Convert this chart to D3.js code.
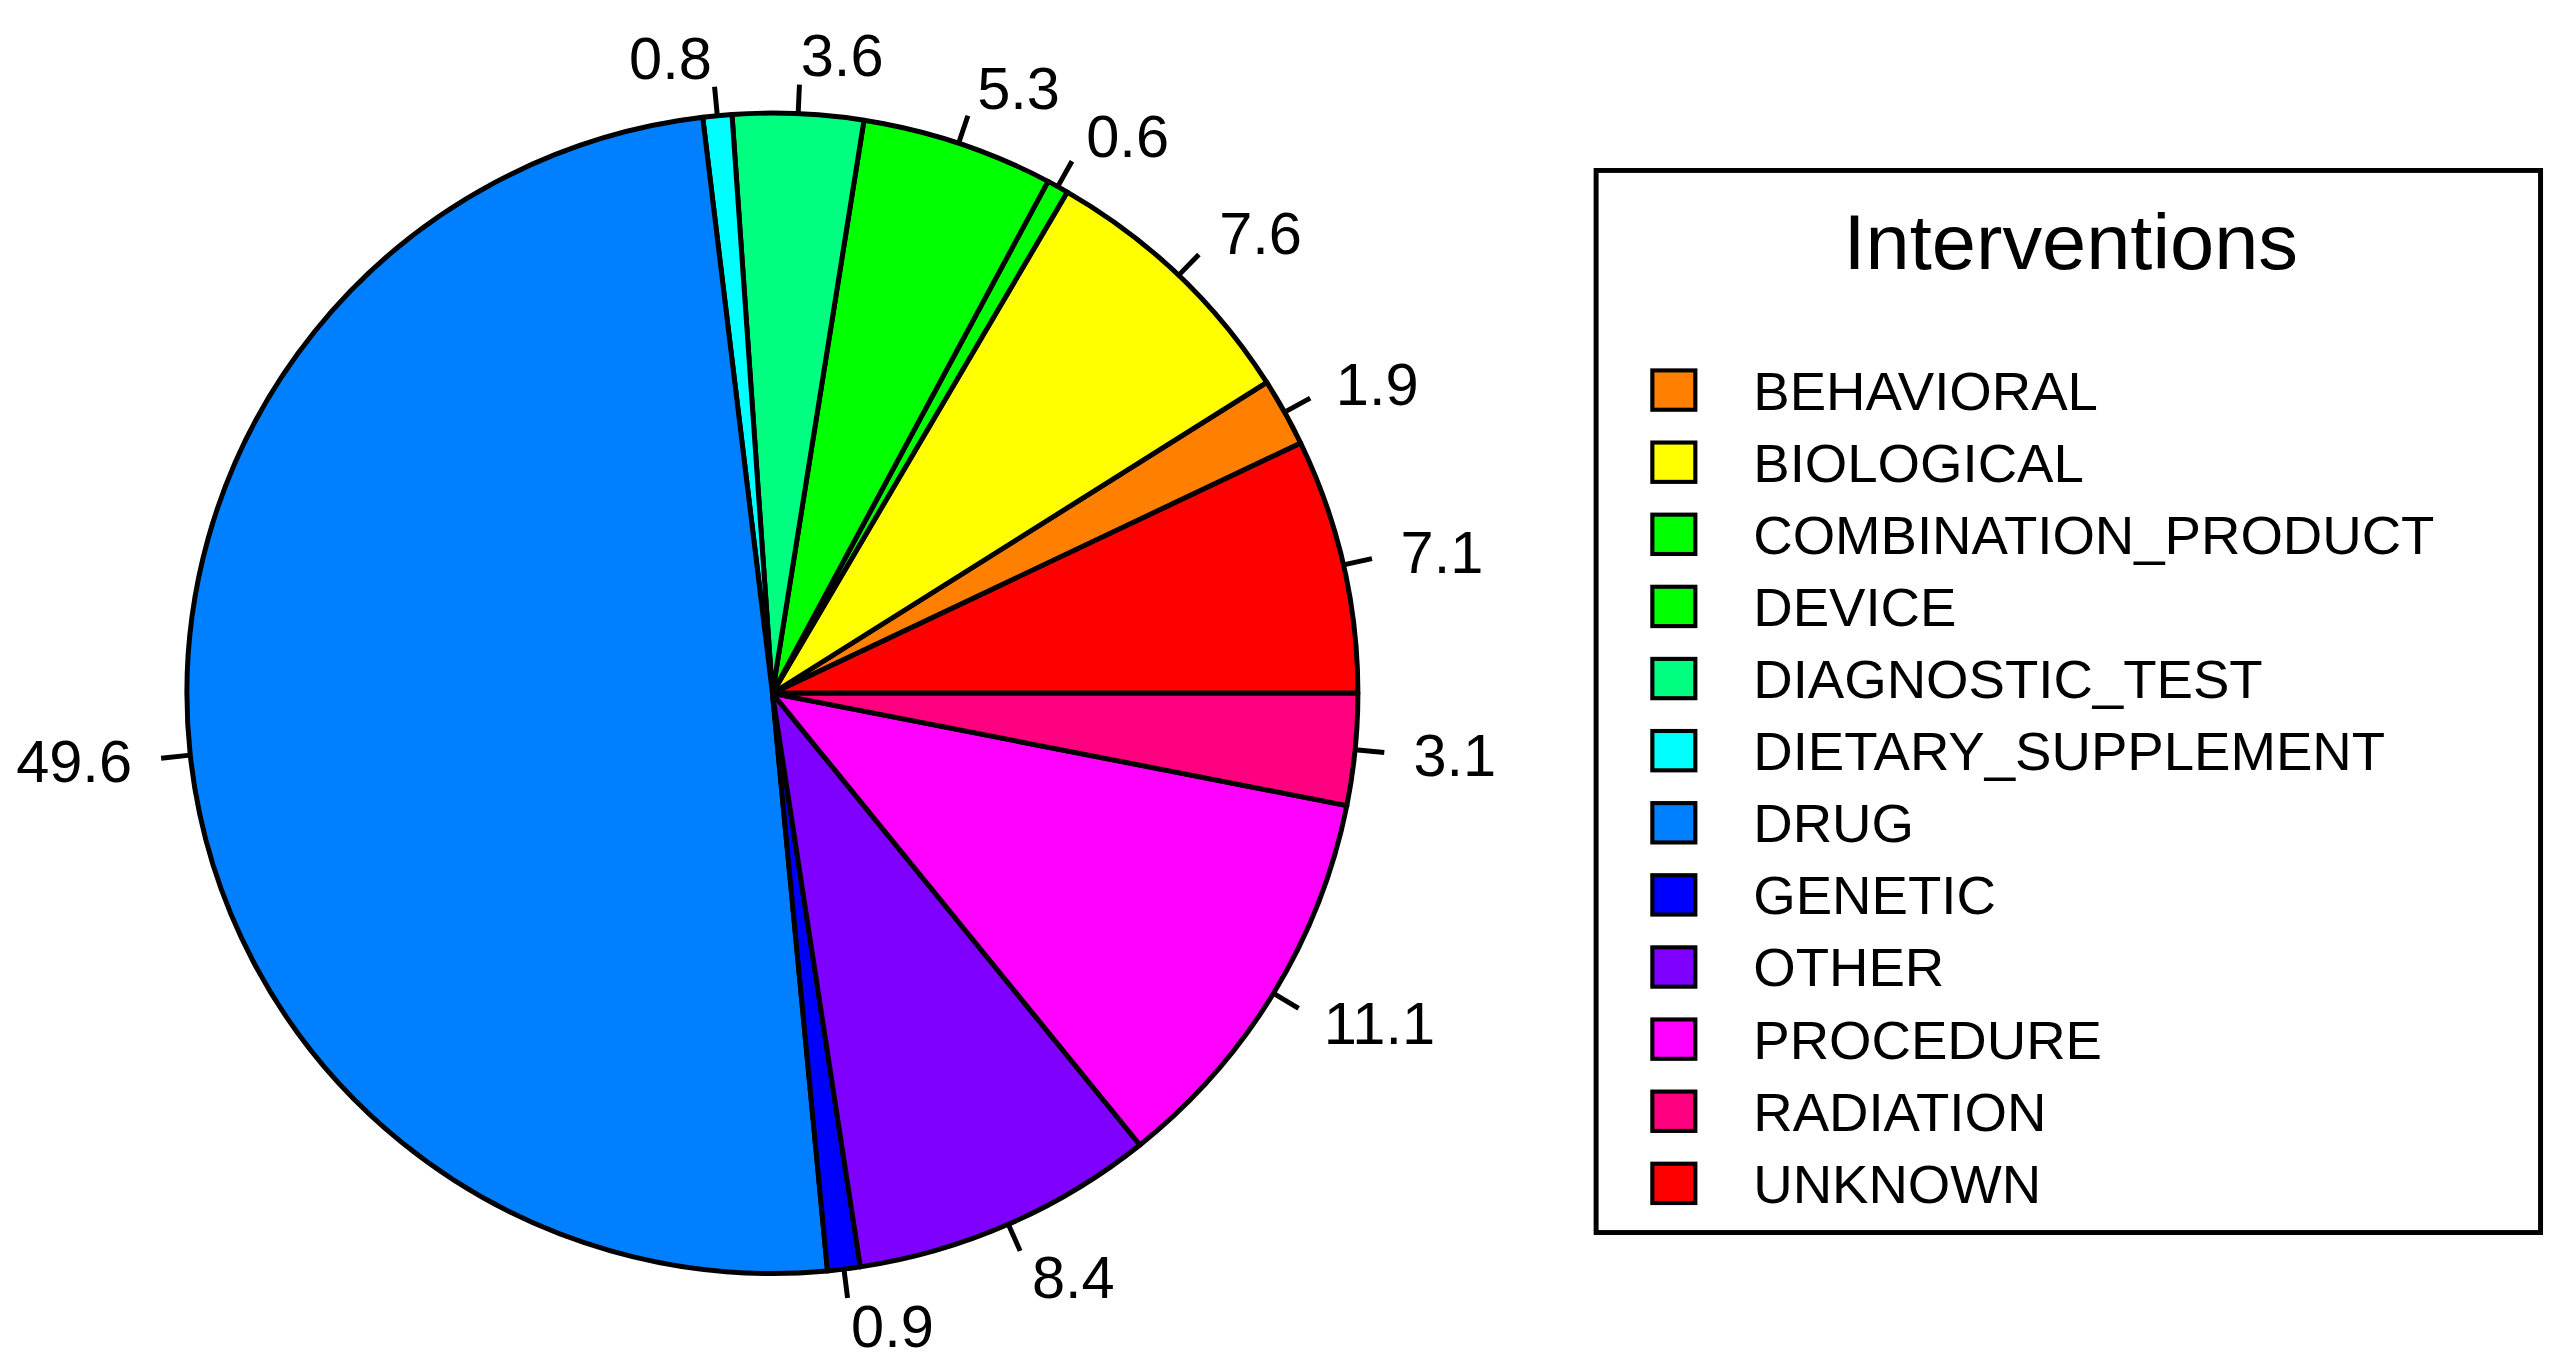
<!DOCTYPE html>
<html><head><meta charset="utf-8">
<script src="https://cdn.jsdelivr.net/npm/d3@7"></script>
<style>body{margin:0;background:#fff}svg{display:block}</style>
</head><body>
<svg id="c" width="2562" height="1360"></svg>
<script>
const categories = ["UNKNOWN","BEHAVIORAL","BIOLOGICAL","COMBINATION_PRODUCT","DEVICE","DIAGNOSTIC_TEST","DIETARY_SUPPLEMENT","DRUG","GENETIC","OTHER","PROCEDURE","RADIATION"];
const values = [7.1,1.9,7.6,0.6,5.3,3.6,0.8,49.6,0.9,8.4,11.1,3.1];
const colors = ["#FF0000","#FF8000","#FFFF00","#00FF00","#00FF00","#00FF80","#00FFFF","#0080FF","#0000FF","#8000FF","#FF00FF","#FF0080"];
const legendOrder = ["BEHAVIORAL","BIOLOGICAL","COMBINATION_PRODUCT","DEVICE","DIAGNOSTIC_TEST","DIETARY_SUPPLEMENT","DRUG","GENETIC","OTHER","PROCEDURE","RADIATION","UNKNOWN"];
const title = "Interventions";

const svg = d3.select("#c");
const g = svg.append("g").attr("transform","scale(1.654,1.639)");
const cx=467, cy=423, R=354;
const data = categories.map((c,i)=>({c,v:values[i],col:colors[i]}));
const pie = d3.pie().sort(null).value(d=>d.v).startAngle(Math.PI/2).endAngle(Math.PI/2-2*Math.PI);
const arcs = pie(data);
const arc = d3.arc().innerRadius(0).outerRadius(R);
const pg = g.append("g").attr("transform",`translate(${cx},${cy})`);
pg.selectAll("path").data(arcs).join("path").attr("d",arc)
  .attr("fill",d=>d.data.col).attr("stroke","#000").attr("stroke-width",3).attr("stroke-linejoin","round");
arcs.forEach(d=>{
  const a=(d.startAngle+d.endAngle)/2, s=Math.sin(a), c=-Math.cos(a);
  pg.append("line").attr("x1",R*s).attr("y1",R*c).attr("x2",R*1.05*s).attr("y2",R*1.05*c)
    .attr("stroke","#000").attr("stroke-width",3);
  pg.append("text").attr("x",R*1.1*s).attr("y",R*1.1*c).attr("dy","0.35em")
    .attr("text-anchor",s>=0?"start":"end")
    .attr("font-family","Liberation Sans, Arial, sans-serif").attr("font-size",36)
    .text(d.data.v.toFixed(1));
});
// legend
const lg = g.append("g");
lg.append("rect").attr("x",965).attr("y",104).attr("width",571).attr("height",648)
  .attr("fill","#fff").attr("stroke","#000").attr("stroke-width",3);
lg.append("text").attr("x",1252).attr("y",164).attr("text-anchor","middle")
  .attr("font-family","Liberation Sans, Arial, sans-serif").attr("font-size",48).text(title);
const y = d3.scalePoint().domain(legendOrder).range([238,722]);
legendOrder.forEach(n=>{
  const i=categories.indexOf(n);
  lg.append("rect").attr("x",999).attr("y",y(n)-12).attr("width",26).attr("height",24)
    .attr("fill",colors[i]).attr("stroke","#000").attr("stroke-width",2.5);
  lg.append("text").attr("x",1060).attr("y",y(n)).attr("dy","0.36em")
    .attr("font-family","Liberation Sans, Arial, sans-serif").attr("font-size",33).text(n);
});
</script>
</body></html>
